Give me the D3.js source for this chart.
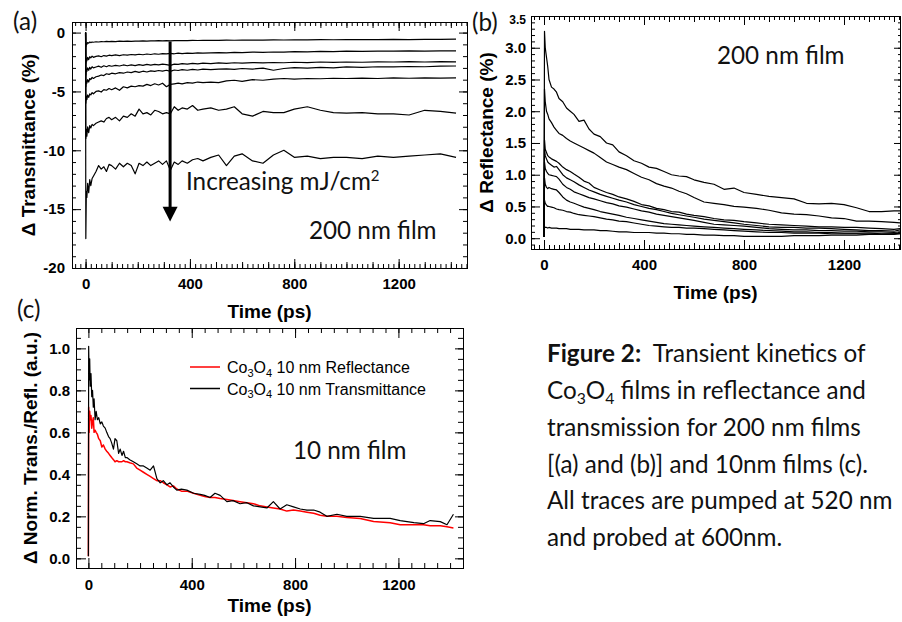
<!DOCTYPE html>
<html><head><meta charset="utf-8">
<script src="https://cdn.jsdelivr.net/npm/d3@7"></script>
<style>
body{margin:0;background:#fff;}
svg{display:block;}
.tick text{font-family:"Liberation Sans",Arial,sans-serif;font-weight:bold;font-size:15px;fill:#000;}
</style></head><body>
<svg id="chart" width="902" height="622"></svg>
<script>
// ---------------- DATA ----------------
// Panel (a): Δ Transmittance (%) vs time (ps), 200 nm film, 7 fluences
const timeA = [0,1,3,5,8,12,16,20,25,30,40,50,60,70,80,90,100,115,130,145,160,175,190,205,220,235,250,265,280,295,310,325,340,355,370,390,410,430,450,480,510,540,570,600,640,680,720,760,800,850,900,950,1000,1060,1120,1180,1240,1300,1360,1420];
const transA1 = [0,-1.2,-0.9,-1.0,-0.85,-0.9,-0.8,-0.85,-0.8,-0.82,-0.78,-0.8,-0.76,-0.78,-0.75,-0.77,-0.74,-0.76,-0.73,-0.75,-0.72,-0.74,-0.72,-0.73,-0.7,-0.72,-0.7,-0.71,-0.69,-0.7,-0.68,-0.7,-0.68,-0.69,-0.67,-0.68,-0.66,-0.67,-0.66,-0.65,-0.66,-0.64,-0.65,-0.64,-0.63,-0.64,-0.62,-0.63,-0.62,-0.62,-0.6,-0.61,-0.6,-0.59,-0.6,-0.58,-0.59,-0.57,-0.58,-0.56];
const transA2 = [0,-2.6,-2.2,-2.4,-2.1,-2.3,-2.05,-2.15,-2.0,-2.1,-2.02,-1.98,-2.05,-1.95,-2.0,-1.92,-1.96,-1.9,-1.95,-1.88,-1.92,-1.86,-1.9,-1.84,-1.88,-1.82,-1.86,-1.8,-1.84,-1.78,-1.8,-1.76,-1.8,-1.75,-1.78,-1.74,-1.76,-1.72,-1.74,-1.72,-1.7,-1.72,-1.68,-1.7,-1.66,-1.68,-1.65,-1.66,-1.62,-1.64,-1.6,-1.62,-1.58,-1.6,-1.57,-1.58,-1.56,-1.57,-1.55,-1.56];
const transA3 = [0,-3.6,-3.1,-3.3,-3.0,-3.2,-2.95,-3.1,-2.9,-3.0,-2.92,-2.85,-2.95,-2.82,-2.9,-2.8,-2.86,-2.78,-2.84,-2.75,-2.82,-2.74,-2.8,-2.72,-2.78,-2.7,-2.76,-2.7,-2.74,-2.68,-2.72,-2.78,-2.68,-2.7,-2.64,-2.68,-2.62,-2.66,-2.6,-2.64,-2.58,-2.62,-2.56,-2.6,-2.55,-2.58,-2.54,-2.56,-2.52,-2.55,-2.5,-2.53,-2.5,-2.52,-2.48,-2.5,-2.47,-2.5,-2.46,-2.48];
const transA4 = [0,-4.6,-4.1,-4.3,-4.0,-4.2,-3.9,-4.0,-3.8,-3.9,-3.75,-3.7,-3.6,-3.65,-3.5,-3.55,-3.45,-3.5,-3.4,-3.45,-3.35,-3.4,-3.3,-3.38,-3.28,-3.35,-3.25,-3.3,-3.22,-3.28,-3.2,-3.3,-3.18,-3.22,-3.15,-3.2,-3.12,-3.18,-3.1,-3.15,-3.1,-3.08,-3.12,-3.05,-3.1,-3.02,-3.2,-3.05,-2.98,-3.02,-2.95,-3.0,-2.92,-2.95,-2.9,-2.92,-2.88,-2.9,-2.85,-2.84];
const transA5 = [0,-6.0,-5.4,-5.7,-5.3,-5.5,-5.2,-5.3,-5.1,-5.2,-5.0,-4.95,-5.05,-4.85,-4.9,-4.75,-4.85,-4.7,-4.9,-4.6,-4.7,-4.55,-4.6,-4.5,-4.55,-4.4,-4.5,-4.35,-4.45,-4.3,-4.6,-4.4,-4.35,-4.3,-4.35,-4.25,-4.3,-4.2,-4.25,-4.2,-4.25,-4.1,-4.05,-4.15,-4.0,-4.05,-3.95,-3.9,-3.95,-3.9,-3.92,-3.88,-3.9,-3.86,-3.9,-3.85,-3.88,-3.84,-3.86,-3.85];
const transA6 = [0,-9.0,-8.2,-8.8,-8.0,-8.5,-7.9,-8.1,-7.8,-7.9,-7.7,-7.6,-7.5,-7.6,-7.3,-7.2,-7.4,-7.2,-7.5,-7.1,-7.2,-6.9,-7.1,-6.5,-6.9,-6.8,-7.0,-6.6,-6.7,-6.9,-6.8,-6.9,-6.3,-6.6,-6.4,-6.5,-6.2,-6.6,-6.5,-6.4,-6.6,-6.5,-6.3,-6.9,-7.1,-6.7,-6.8,-6.8,-6.5,-6.3,-6.6,-6.8,-6.85,-6.8,-6.9,-6.9,-7.0,-6.6,-6.7,-6.85];
const transA7 = [0,-17.5,-13.5,-14.0,-12.8,-13.6,-12.5,-13.0,-12.4,-12.2,-11.8,-11.3,-11.6,-11.4,-11.8,-11.2,-11.3,-11.6,-11.1,-11.4,-11.1,-11.3,-12.0,-11.1,-11.3,-11.0,-11.3,-11.1,-10.9,-11.2,-10.9,-11.7,-11.0,-11.2,-10.9,-11.1,-10.8,-10.7,-10.9,-10.6,-10.4,-11.3,-10.5,-10.3,-10.9,-11.1,-10.4,-10.0,-10.6,-10.5,-10.7,-10.6,-10.6,-10.7,-10.5,-10.6,-10.5,-10.4,-10.3,-10.6];
const xTicksA = [0, 400, 800, 1200];
const yTicksA = [0, -5, -10, -15, -20];

// Panel (b): Δ Reflectance (%) vs time (ps), 200 nm film, 8 fluences
const timeB = [0,2,5,10,15,20,30,40,50,60,75,90,105,120,140,160,180,200,225,250,275,300,330,360,390,420,450,480,510,540,570,600,640,680,720,760,800,850,900,950,1000,1050,1100,1150,1200,1250,1300,1350,1400,1424];
const reflB1 = [0.03,3.26,3.0,2.85,2.7,2.5,2.38,2.35,2.3,2.2,2.15,2.05,2.0,1.95,1.84,1.86,1.72,1.64,1.6,1.5,1.47,1.36,1.3,1.22,1.18,1.12,1.1,1.05,1.0,0.98,0.97,0.92,0.88,0.85,0.77,0.79,0.72,0.69,0.66,0.64,0.62,0.55,0.54,0.55,0.53,0.48,0.42,0.42,0.43,0.43];
const reflB2 = [0.03,2.35,2.15,2.0,1.95,1.88,1.82,1.75,1.7,1.65,1.62,1.57,1.53,1.5,1.46,1.42,1.38,1.34,1.27,1.2,1.16,1.12,1.08,1.02,0.96,0.92,0.86,0.82,0.79,0.74,0.7,0.64,0.57,0.55,0.53,0.5,0.49,0.47,0.44,0.4,0.38,0.37,0.35,0.32,0.31,0.27,0.27,0.26,0.25,0.24];
const reflB3 = [0.02,1.55,1.4,1.35,1.3,1.28,1.25,1.23,1.21,1.18,1.12,1.08,1.05,1.01,0.96,0.9,0.87,0.8,0.76,0.72,0.69,0.65,0.62,0.58,0.53,0.51,0.47,0.45,0.42,0.41,0.38,0.36,0.34,0.31,0.29,0.28,0.26,0.24,0.22,0.21,0.2,0.19,0.18,0.18,0.17,0.17,0.16,0.15,0.14,0.15];
const reflB4 = [0.02,1.4,1.3,1.25,1.2,1.18,1.15,1.12,1.13,1.08,1.0,0.95,0.92,0.89,0.84,0.8,0.76,0.73,0.69,0.66,0.63,0.6,0.57,0.53,0.5,0.47,0.45,0.42,0.39,0.37,0.35,0.33,0.3,0.28,0.26,0.24,0.22,0.2,0.18,0.17,0.17,0.16,0.16,0.15,0.14,0.13,0.12,0.12,0.11,0.13];
const reflB5 = [0.02,1.2,1.1,1.05,1.02,1.0,0.99,0.98,0.97,0.93,0.85,0.8,0.77,0.73,0.7,0.67,0.64,0.62,0.59,0.56,0.54,0.51,0.49,0.46,0.43,0.41,0.38,0.36,0.34,0.32,0.3,0.28,0.25,0.22,0.21,0.2,0.19,0.17,0.15,0.14,0.13,0.13,0.12,0.12,0.11,0.11,0.1,0.1,0.09,0.1];
const reflB6 = [0.02,0.95,0.85,0.8,0.78,0.8,0.78,0.77,0.76,0.72,0.65,0.6,0.57,0.55,0.52,0.49,0.47,0.45,0.42,0.4,0.38,0.36,0.33,0.31,0.29,0.27,0.25,0.23,0.22,0.21,0.2,0.19,0.18,0.17,0.16,0.15,0.14,0.13,0.12,0.11,0.1,0.1,0.09,0.09,0.08,0.08,0.08,0.07,0.07,0.08];
const reflB7 = [0.02,0.6,0.55,0.52,0.5,0.5,0.49,0.48,0.46,0.45,0.44,0.42,0.41,0.39,0.37,0.36,0.35,0.34,0.32,0.3,0.29,0.27,0.26,0.24,0.22,0.2,0.19,0.18,0.17,0.17,0.16,0.16,0.15,0.14,0.13,0.12,0.11,0.1,0.09,0.09,0.08,0.08,0.08,0.07,0.07,0.07,0.06,0.06,0.06,0.07];
const reflB8 = [0.02,0.18,0.17,0.17,0.16,0.17,0.16,0.16,0.16,0.15,0.15,0.15,0.14,0.14,0.14,0.13,0.13,0.13,0.12,0.12,0.11,0.1,0.1,0.09,0.09,0.09,0.08,0.08,0.07,0.07,0.06,0.06,0.05,0.05,0.04,0.04,0.03,0.03,0.03,0.03,0.04,0.04,0.04,0.05,0.05,0.05,0.06,0.06,0.07,0.07];
const xTicksB = [0, 400, 800, 1200];
const yTicksB = [0, 0.5, 1.0, 1.5, 2.0, 2.5, 3.0, 3.5];

// Panel (c): normalized, 10 nm film
const timeC = [0,1,3,5,7,10,13,16,19,22,26,30,35,40,46,52,58,65,71,78,84,90,97,103,110,117,123,130,136,143,149,160,174,187,200,213,226,239,252,265,278,290,304,316,329,342,360,381,407,433,450,471,490,510,536,560,587,613,639,665,691,716,742,768,794,820,846,872,897,923,962,1000,1052,1104,1168,1207,1260,1297,1323,1362,1388,1413];
const reflC = [0.01,0.72,0.6,0.7,0.66,0.68,0.62,0.65,0.67,0.6,0.61,0.6,0.59,0.57,0.56,0.53,0.54,0.52,0.51,0.5,0.49,0.48,0.47,0.46,0.465,0.46,0.46,0.46,0.465,0.46,0.46,0.455,0.45,0.43,0.42,0.41,0.4,0.39,0.38,0.37,0.37,0.36,0.35,0.34,0.345,0.33,0.32,0.32,0.31,0.3,0.295,0.29,0.29,0.285,0.28,0.275,0.27,0.265,0.26,0.25,0.245,0.24,0.235,0.225,0.23,0.225,0.22,0.215,0.205,0.2,0.2,0.195,0.19,0.175,0.17,0.16,0.16,0.16,0.155,0.155,0.15,0.145];
const transC = [0.01,1.01,0.85,0.95,0.82,0.88,0.77,0.8,0.72,0.76,0.66,0.7,0.66,0.67,0.64,0.65,0.63,0.62,0.6,0.58,0.57,0.55,0.52,0.57,0.56,0.5,0.52,0.49,0.51,0.48,0.48,0.47,0.46,0.45,0.44,0.44,0.43,0.42,0.44,0.38,0.36,0.37,0.35,0.36,0.34,0.325,0.33,0.325,0.31,0.305,0.3,0.29,0.31,0.3,0.27,0.275,0.26,0.265,0.25,0.245,0.24,0.27,0.235,0.255,0.245,0.235,0.23,0.23,0.22,0.2,0.21,0.2,0.2,0.19,0.19,0.18,0.17,0.165,0.18,0.175,0.16,0.21];
const xTicksC = [0, 400, 800, 1200];
const yTicksC = [0, 0.2, 0.4, 0.6, 0.8, 1.0];

const legendC = ["10 nm Reflectance", "10 nm Transmittance"];
const captionLines = ["transmission for 200 nm films", "[(a) and (b)] and 10nm films (c).", "All traces are pumped at 520 nm", "and probed at 600nm."];

// ---------------- DRAWING ----------------
const svg = d3.select("#chart");
svg.append("rect").attr("width", 902).attr("height", 622).attr("fill", "#fff");
const BOLD = "'Liberation Sans', Arial, sans-serif";
const HUM = "Lato, 'Open Sans', sans-serif";

// font size for Calibri-like texts (fit to the reference width)
const probe = svg.append("text").attr("font-family", HUM).attr("font-size", 100).text("transmission for 200 nm films");
const hs = 100 * 314 / probe.node().getComputedTextLength();
probe.remove();

let clipId = 0;
function makePanel(p) {
  const x = d3.scaleLinear().domain(p.xDomain).range([p.left, p.right]);
  const y = d3.scaleLinear().domain(p.yDomain).range([p.bottom, p.top]);
  const g = svg.append("g");
  const ax = (gen, tr, vals, size, fmt, pad) => {
    const a = g.append("g").attr("transform", tr)
      .call(gen.tickValues(vals).tickSizeInner(size).tickSizeOuter(0).tickPadding(pad || 3).tickFormat(fmt || (() => "")));
    a.select(".domain").remove();
    a.selectAll(".tick line").attr("stroke", "#000").attr("stroke-width", 1);
    return a;
  };
  const inX = v => v >= p.xDomain[0] && v <= p.xDomain[1];
  const inY = v => v >= Math.min(...p.yDomain) && v <= Math.max(...p.yDomain);
  const xMinor = d3.range(-1000, 2000, p.xMinor).filter(inX);
  const xMed = p.xMed ? d3.range(-1000, 2000, p.xMed).filter(inX) : [];
  const yMinor = d3.range(Math.round(p.yDomain[0] / p.yMinor) * p.yMinor, p.yDomain[1], p.yMinor).map(v => +v.toFixed(4)).filter(inY);
  ax(d3.axisBottom(x), `translate(0,${p.bottom})`, xMinor, -p.tMinor);
  if (xMed.length) ax(d3.axisBottom(x), `translate(0,${p.bottom})`, xMed, -p.tMed);
  ax(d3.axisBottom(x), `translate(0,${p.bottom})`, p.xTicks, -p.tMajor, d => String(d), p.xPad);
  ax(d3.axisTop(x), `translate(0,${p.top})`, xMinor, -p.tMinor);
  if (xMed.length) ax(d3.axisTop(x), `translate(0,${p.top})`, xMed, -p.tMed);
  ax(d3.axisTop(x), `translate(0,${p.top})`, p.xTicks, -p.tMajor);
  ax(d3.axisLeft(y), `translate(${p.left},0)`, yMinor, -p.tMinor);
  const yl = ax(d3.axisLeft(y), `translate(${p.left},0)`, p.yTicks, -p.tMajor, p.yFmt, p.yPad);
  ax(d3.axisRight(y), `translate(${p.right},0)`, yMinor, -p.rMinor);
  ax(d3.axisRight(y), `translate(${p.right},0)`, p.yTicks, -p.rMajor);
  g.append("rect").attr("x", p.left + 0.5).attr("y", p.top + 0.5)
    .attr("width", p.right - p.left).attr("height", p.bottom - p.top)
    .attr("fill", "none").attr("stroke", "#000").attr("stroke-width", 1);
  const id = "clip" + (clipId++);
  svg.append("clipPath").attr("id", id).append("rect")
    .attr("x", p.left).attr("y", p.top).attr("width", p.right - p.left + 1).attr("height", p.bottom - p.top + 1);
  const plot = svg.append("g").attr("clip-path", `url(#${id})`);
  return { x, y, g, plot, yl };
}

function drawSeries(P, times, vals, color, width) {
  const line = d3.line().x((d, i) => P.x(times[i])).y(d => P.y(d));
  P.plot.append("path").datum(vals).attr("d", line)
    .attr("fill", "none").attr("stroke", color).attr("stroke-width", width).attr("stroke-linejoin", "round");
}

function axisTitle(txt, x, y, rot) {
  svg.append("text").attr("transform", `translate(${x},${y})` + (rot ? " rotate(-90)" : ""))
    .attr("text-anchor", "middle").attr("font-family", BOLD).attr("font-weight", "bold")
    .attr("font-size", 19).attr("fill", "#000").text(txt);
}
function humText(txt, x, y) {
  return svg.append("text").attr("x", x).attr("y", y).attr("font-family", HUM)
    .attr("font-size", hs).attr("fill", "#111").text(txt);
}

// ---- Panel (a)
const PA = makePanel({
  left: 72, right: 467, top: 22, bottom: 268,
  xDomain: [-52, 1462], yDomain: [-20, 0.9],
  xTicks: xTicksA, yTicks: yTicksA, xMinor: 20, xMed: 100, yMinor: 1,
  tMinor: 4, tMed: 6, tMajor: 9, rMinor: 4, rMajor: 8,
  xPad: 10, yPad: 7, yFmt: d => String(d)
});
[transA1, transA2, transA3, transA4, transA5, transA6, transA7].forEach(s => drawSeries(PA, timeA, s, "#000", 1.2));

const arrowA = { t: 324, from: -0.76, head: -14.8, tip: -16.05 };
const axp = PA.x(arrowA.t);
svg.append("line").attr("x1", axp).attr("x2", axp).attr("y1", PA.y(arrowA.from)).attr("y2", PA.y(arrowA.head) + 1)
  .attr("stroke", "#000").attr("stroke-width", 3);
svg.append("path").attr("d", `M${axp - 7.5},${PA.y(arrowA.head)} L${axp + 7.5},${PA.y(arrowA.head)} L${axp},${PA.y(arrowA.tip)} Z`).attr("fill", "#000");
const inc = humText("Increasing mJ/cm", 186, 190);
inc.append("tspan").attr("font-size", hs * 0.62).attr("dy", -hs * 0.38).text("2");
humText("200 nm film", 309, 239);
humText("(a)", 13, 30);
axisTitle("Δ Transmittance (%)", 35, 145, true);
axisTitle("Time (ps)", 269.5, 318, false);

// ---- Panel (b)
const PB = makePanel({
  left: 531, right: 900, top: 16, bottom: 249,
  xDomain: [-52, 1424], yDomain: [-0.17, 3.5],
  xTicks: xTicksB, yTicks: yTicksB, xMinor: 20, xMed: 100, yMinor: 0.1,
  tMinor: 4, tMed: 6, tMajor: 9, rMinor: 2, rMajor: 6,
  xPad: 10, yPad: 5, yFmt: d3.format(".1f")
});
[reflB1, reflB2, reflB3, reflB4, reflB5, reflB6, reflB7, reflB8].forEach(s => drawSeries(PB, timeB, s, "#000", 1.2));
PB.yl.selectAll(".tick text").filter(d => d === 3.5).style("font-size", "12px").attr("dy", "0.6em");
humText("200 nm film", 717, 64);
humText("(b)", 472, 31);
axisTitle("Δ Reflectance (%)", 493, 132.5, true);
axisTitle("Time (ps)", 715.5, 299, false);

// ---- Panel (c)
const PC = makePanel({
  left: 76, right: 463, top: 328, bottom: 568,
  xDomain: [-48, 1450], yDomain: [-0.046, 1.097],
  xTicks: xTicksC, yTicks: yTicksC, xMinor: 50, xMed: 0, yMinor: 0.05,
  tMinor: 5, tMed: 7, tMajor: 10, rMinor: 5, rMajor: 8,
  xPad: 11, yPad: 6, yFmt: d3.format(".1f")
});
drawSeries(PC, timeC, reflC, "#ff0000", 1.5);
drawSeries(PC, timeC, transC, "#000", 1.2);
humText("10 nm film", 293, 459);
humText("(c)", 17, 318);
axisTitle("Δ Norm. Trans./Refl. (a.u.)", 37, 448, true);
axisTitle("Time (ps)", 269.5, 612, false);

// legend
const legColors = ["#ff0000", "#000"];
legendC.forEach((lab, i) => {
  const ly = 367 + i * 21.5;
  svg.append("line").attr("x1", 190).attr("x2", 220).attr("y1", ly).attr("y2", ly)
    .attr("stroke", legColors[i]).attr("stroke-width", 1.5);
  const t = svg.append("text").attr("x", 227).attr("y", ly + 6).attr("font-family", "'Liberation Sans', Arial, sans-serif")
    .attr("font-size", 16).attr("fill", "#000");
  t.append("tspan").text("Co");
  t.append("tspan").attr("font-size", 11).attr("dy", 3.5).text("3");
  t.append("tspan").attr("dy", -3.5).text("O");
  t.append("tspan").attr("font-size", 11).attr("dy", 3.5).text("4");
  t.append("tspan").attr("dy", -3.5).text("\u00a0" + lab);
});

// ---- caption
const capX = 547, capY = [362, 399, 436, 473, 509, 546];
const c1 = humText("", capX, capY[0]);
c1.append("tspan").attr("font-weight", "bold").text("Figure 2:");
c1.append("tspan").text("\u00a0\u00a0Transient kinetics of");
const c2 = humText("", capX, capY[1]);
c2.append("tspan").text("Co");
c2.append("tspan").attr("font-size", hs * 0.65).attr("dy", hs * 0.2).text("3");
c2.append("tspan").attr("dy", -hs * 0.2).text("O");
c2.append("tspan").attr("font-size", hs * 0.65).attr("dy", hs * 0.2).text("4");
c2.append("tspan").attr("dy", -hs * 0.2).text(" films in reflectance and");
captionLines.forEach((l, i) => humText(l, capX, capY[i + 2]));
</script>
</body></html>
